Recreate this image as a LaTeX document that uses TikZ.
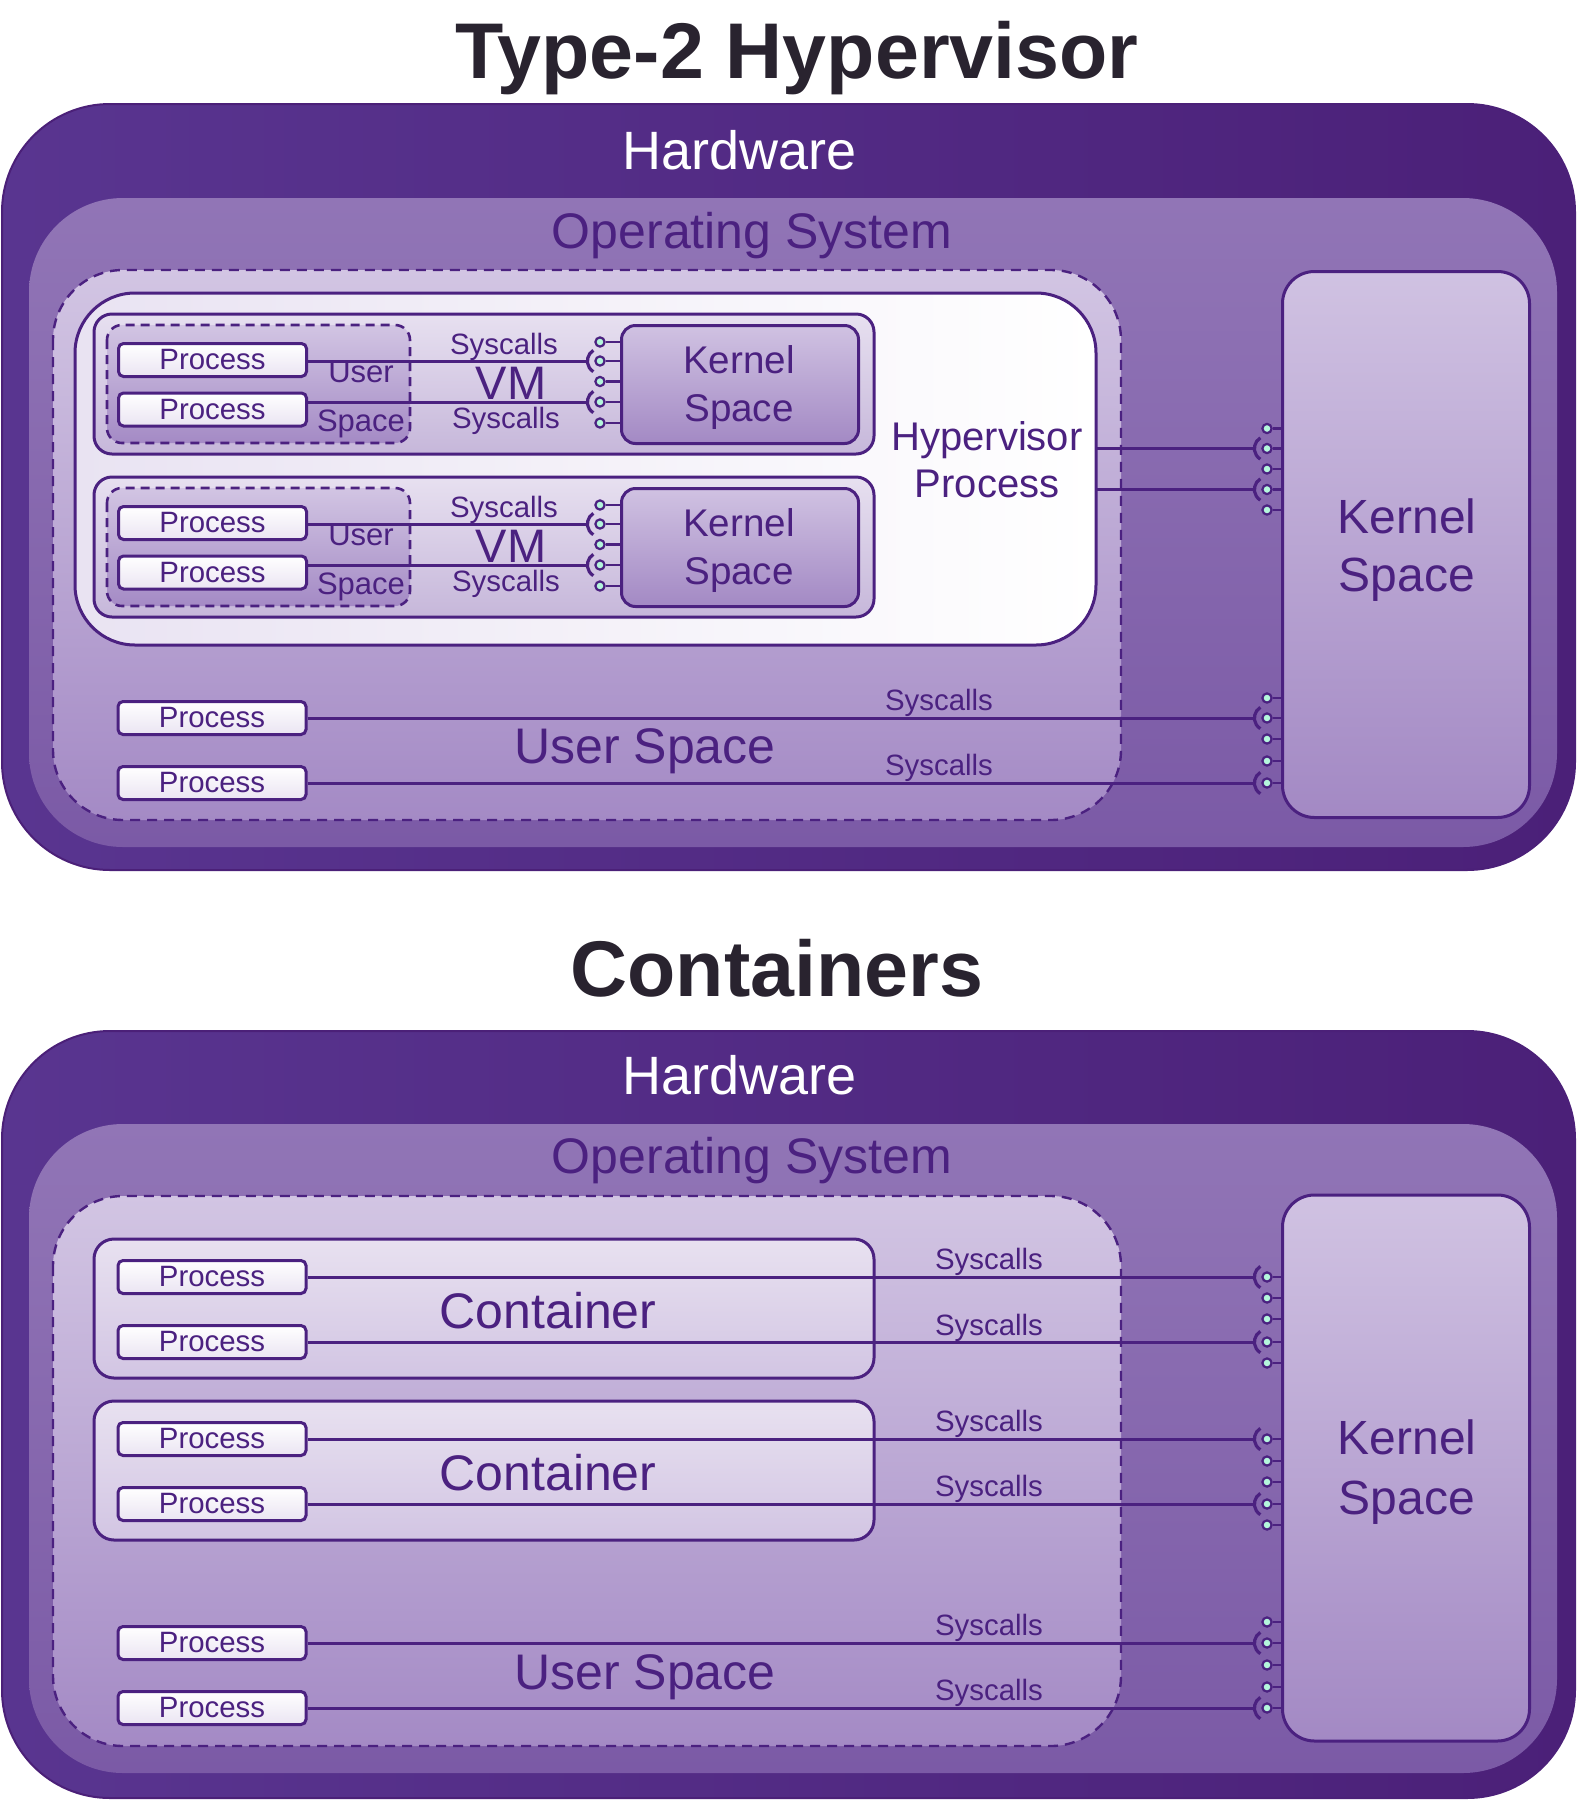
\documentclass[tikz,border=0pt]{standalone}
\usepackage{fontspec}
\setmainfont{Liberation Sans}
\usepackage{xcolor}
\usetikzlibrary{calc,positioning}

\definecolor{vline}{HTML}{4B2180}
\definecolor{ttlc}{HTML}{29232F}
\definecolor{hwL}{HTML}{593590}
\definecolor{hwR}{HTML}{4B2078}
\definecolor{osT}{HTML}{9175B6}
\definecolor{osB}{HTML}{7B5AA6}
\definecolor{usT}{HTML}{D2C5E3}
\definecolor{usB}{HTML}{A48AC5}
\definecolor{hypL}{HTML}{E9E3F2}
\definecolor{vmT}{HTML}{E7E0F0}
\definecolor{vmB}{HTML}{C6B7DA}
\definecolor{ctT}{HTML}{E8E1F0}
\definecolor{ctB}{HTML}{D2C5E3}
\definecolor{ksT}{HTML}{D0C2E2}
\definecolor{ksB}{HTML}{A389C4}
\definecolor{procB}{HTML}{EAE4F2}
\definecolor{mint}{HTML}{B4F6DC}

\tikzset{
		>=stealth,
		hw/.style={draw=hwR,line width=1pt,left color=hwL,right color=hwR,rounded corners=54pt},
		os/.style={top color=osT,bottom color=osB,rounded corners=47pt},
		us/.style={draw=vline,line width=1.2pt,dash pattern=on 5pt off 3.5pt,top color=usT,bottom color=usB,rounded corners=35pt},
		hyp/.style={draw=vline,line width=1.5pt,left color=hypL,right color=white,rounded corners=30pt},
		vm/.style={draw=vline,line width=1.5pt,top color=vmT,bottom color=vmB,rounded corners=9pt},
		vmus/.style={draw=vline,line width=1.3pt,dash pattern=on 4.5pt off 3pt,top color=usT,bottom color=usB,rounded corners=7.5pt},
		ctr/.style={draw=vline,line width=1.5pt,top color=ctT,bottom color=ctB,rounded corners=10pt},
		proc/.style={draw=vline,line width=1.5pt,rounded corners=2.5pt,top color=white,bottom color=procB,
			minimum width=94pt,minimum height=16.5pt,inner sep=0pt,text=vline,font=\fontsize{14.7}{17}\selectfont},
		ks/.style={draw=vline,line width=1.5pt,top color=ksT,bottom color=ksB,rounded corners=16pt,
			minimum width=123.5pt,minimum height=273pt,inner sep=0pt},
		kvm/.style={draw=vline,line width=1.5pt,top color=ksT,bottom color=ksB,rounded corners=7pt,
			minimum width=118.5pt,minimum height=59pt,inner sep=0pt},
		ball/.style={circle,draw=vline,fill=mint,line width=1.1pt,minimum size=4.6pt,inner sep=0pt},
		wire/.style={draw=vline,line width=1.5pt},
		stub/.style={draw=vline,line width=1.2pt},
		sock/.style={draw=vline,line width=1.6pt},
		ttl/.style={anchor=base,inner sep=0pt,text=ttlc,font=\fontsize{39.5}{47}\selectfont\bfseries},
		hwtxt/.style={anchor=base,inner sep=0pt,text=white,font=\fontsize{27}{32}\selectfont},
		big/.style={anchor=base,inner sep=0pt,text=vline,font=\fontsize{25}{30}\selectfont},
		small/.style={anchor=base,inner sep=0pt,text=vline,font=\fontsize{14.7}{17}\selectfont},
		mid/.style={inner sep=0pt,align=center,text=vline}
	}

\begin{document}
\begin{tikzpicture}[x=0.5pt,y=-0.5pt]
          \useasboundingbox (0,0) rectangle (1577,1800);

          % type-2 hypervisor
          \node[ttl] (T1) at (797,78) {Type-2 Hypervisor};
          \draw[hw] (2,104) rectangle (1575,870);
          \node[hwtxt] (HW1) at (740,169) {Hardware};
          \path[os] (29,198) rectangle (1557,847);
          \node[big] (OS1) at (752,248) {Operating System};
          \draw[us] (53,270) rectangle (1121,820);
          \node[big] (US1) at (645,763) {User Space};

          \coordinate (H1) at (75,293);
          \coordinate (H2) at (1096,645);
          \draw[hyp] (H1) rectangle (H2);
          \node[mid,font=\fontsize{20}{23.5}\selectfont] (HP) at (987,459.5) {Hypervisor\\Process};

          \foreach \v/\dy in {a/0,b/163}{
            \draw[vm] (94,{314+\dy}) rectangle (874,{454+\dy});
            \draw[vmus] (107,{325+\dy}) rectangle (410,{443+\dy});
            \node[mid,font=\fontsize{15.5}{24.5}\selectfont] (U\v) at (361,{400+\dy}) {User\\Space};
            \node[small] (S\v1) at (504,{354+\dy}) {Syscalls};
            \node[big,font=\fontsize{23.5}{28}\selectfont] (VM\v) at (511,{399+\dy}) {VM};
            \node[small] (S\v2) at (506,{428+\dy}) {Syscalls};
            \node[proc] (P\v1) at (212.5,{360+\dy}) {Process};
            \node[proc] (P\v2) at (212.5,{409.5+\dy}) {Process};
            \node[kvm] (K\v) at (740,{384.5+\dy}) {};
            \node[mid,font=\fontsize{19.3}{24}\selectfont] (K\v t) at (739,{388+\dy}) {Kernel\\Space};
            \foreach \i/\y in {1/342,2/361,3/381.5,4/402,5/423}{
              \node[ball] (B\v\i) at (600,{\y+\dy}) {};
              \draw[stub] (B\v\i) -- (K\v.west |- B\v\i);
            }
            \draw[wire] (P\v1.east |- B\v2) -- ([xshift=-6.3pt]B\v2.center);
            \draw[wire] (P\v2.east |- B\v4) -- ([xshift=-6.3pt]B\v4.center);
          }

          \node[ks] (KA) at (1406,544.5) {};
          \node[mid,font=\fontsize{24}{29}\selectfont] (KAt) at (1407,550) {Kernel\\Space};
          \foreach \i/\y in {1/428.5,2/448.5,3/469,4/489.5,5/510,6/698,7/718,8/739,9/761,10/783}{
            \node[ball] (R\i) at (1267,\y) {};
            \draw[stub] (R\i) -- (KA.west |- R\i);
          }
          \draw[wire] (H2 |- R2) -- ([xshift=-6.3pt]R2.center);
          \draw[wire] (H2 |- R4) -- ([xshift=-6.3pt]R4.center);

          \node[proc] (PA) at (212,718) {Process};
          \node[proc] (PB) at (212,783) {Process};
          \draw[wire] (PA.east) -- ([xshift=-6.3pt]R7.center);
          \draw[wire] (PB.east) -- ([xshift=-6.3pt]R10.center);
          \node[small] (SA) at (939,710) {Syscalls};
          \node[small] (SB) at (939,775) {Syscalls};

          % containers
          \node[ttl] (T2) at (777,996) {Containers};
          \draw[hw] (2,1031) rectangle (1575,1798);
          \node[hwtxt] (HW2) at (740,1094) {Hardware};
          \path[os] (29,1124) rectangle (1557,1773);
          \node[big] (OS2) at (752,1173) {Operating System};
          \draw[us] (53,1196) rectangle (1121,1746);
          \node[big] (US2) at (645,1689) {User Space};

          \foreach \c/\dy in {c/0,d/162}{
            \draw[ctr] (94,{1239+\dy}) rectangle (874,{1378+\dy});
            \node[big] (C\c) at (548,{1328+\dy}) {Container};
            \node[proc] (P\c1) at (212,{1277+\dy}) {Process};
            \node[proc] (P\c2) at (212,{1342+\dy}) {Process};
          }
          \node[proc] (PE) at (212,1643) {Process};
          \node[proc] (PF) at (212,1708) {Process};

          \node[ks] (KB) at (1406,1468) {};
          \node[mid,font=\fontsize{24}{30}\selectfont] (KBt) at (1407,1472) {Kernel\\Space};
          \foreach \i/\y in {1/1277,2/1298,3/1319,4/1342,5/1363,6/1439,7/1461,8/1482,9/1504,10/1525,11/1622,12/1643,13/1665,14/1687,15/1708}{
            \node[ball] (Q\i) at (1267,\y) {};
            \draw[stub] (Q\i) -- (KB.west |- Q\i);
          }
          \draw[wire] (Pc1.east) -- ([xshift=-6.3pt]Q1.center);
          \draw[wire] (Pc2.east) -- ([xshift=-6.3pt]Q4.center);
          \draw[wire] (Pd1.east) -- ([xshift=-6.3pt]Q6.center);
          \draw[wire] (Pd2.east) -- ([xshift=-6.3pt]Q9.center);
          \draw[wire] (PE.east) -- ([xshift=-6.3pt]Q12.center);
          \draw[wire] (PF.east) -- ([xshift=-6.3pt]Q15.center);
          \foreach \y [count=\k] in {1269,1335,1431,1496,1635,1700}{
            \node[small] (SC\k) at (989,\y) {Syscalls};
          }

          % sockets round the balls
          \foreach \b in {Ba2,Ba4,Bb2,Bb4,R2,R4,R7,R10,Q1,Q4,Q6,Q9,Q12,Q15}{
            \draw[sock] ([shift={(122:6.3pt)}]\b.center) arc[start angle=122,end angle=238,radius=6.3pt];
          }

          \end{tikzpicture}
\end{document}
